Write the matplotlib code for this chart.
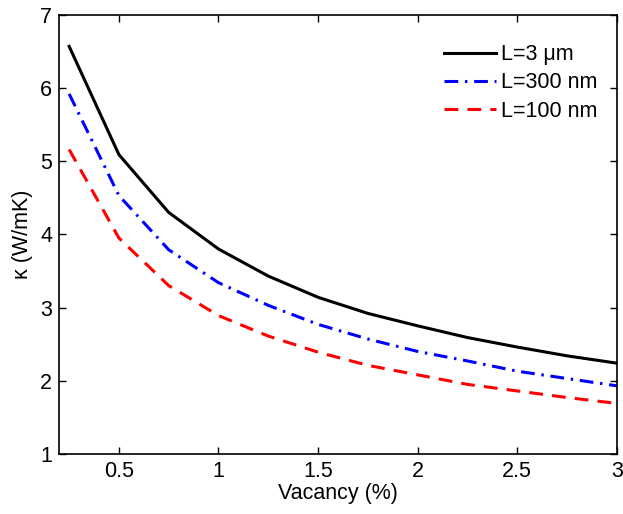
import numpy as np
import matplotlib
matplotlib.use('Agg')
from matplotlib import pyplot as plt

plt.rcParams['font.family'] = ['Liberation Sans', 'DejaVu Sans']

vacancy = [0.25, 0.5, 0.75, 1.0, 1.25, 1.5, 1.75, 2.0, 2.25, 2.5, 2.75, 3.0]
k_3um = [6.57, 5.09, 4.30, 3.80, 3.43, 3.14, 2.92, 2.75, 2.59, 2.46, 2.34, 2.24]
k_300nm = [5.92, 4.53, 3.79, 3.34, 3.03, 2.77, 2.57, 2.40, 2.27, 2.13, 2.03, 1.93]
k_100nm = [5.16, 3.95, 3.30, 2.89, 2.61, 2.39, 2.21, 2.08, 1.95, 1.86, 1.77, 1.69]
labels = ['L=3 \u03bcm', 'L=300 nm', 'L=100 nm']

fig = plt.figure(figsize=(6.23, 5.14), dpi=100)
ax = fig.add_axes([0.095, 0.117, 0.895, 0.854])

ax.plot(vacancy, k_3um, color='black', lw=2.2, ls='-', label=labels[0])
ax.plot(vacancy, k_300nm, color='blue', lw=2.2, ls=(0, (4.5, 2.2, 0.8, 2.2)), label=labels[1])
ax.plot(vacancy, k_100nm, color='red', lw=2.2, ls=(0, (4.5, 3)), label=labels[2])

ax.set_xlim(0.2, 3)
ax.set_ylim(1, 7)
ax.set_xticks([0.5, 1, 1.5, 2, 2.5, 3])
ax.set_xticklabels(['0.5', '1', '1.5', '2', '2.5', '3'])
ax.set_yticks(range(1, 8))
ax.tick_params(direction='in', top=True, right=True, labelsize=15.5, length=5, width=1, pad=5)
for s in ax.spines.values():
    s.set_linewidth(1.2)

ax.set_xlabel('Vacancy (%)', fontsize=15.5, labelpad=1)
ax.set_ylabel('\u03ba (W/mK)', fontsize=15.5, labelpad=5)

ax.legend(loc='upper left', bbox_to_anchor=(0.69, 0.933), frameon=False, fontsize=15.5,
          handlelength=2.4, handletextpad=0.25, labelspacing=0.33, borderpad=0, borderaxespad=0)

fig.savefig('out.png', dpi=100)
